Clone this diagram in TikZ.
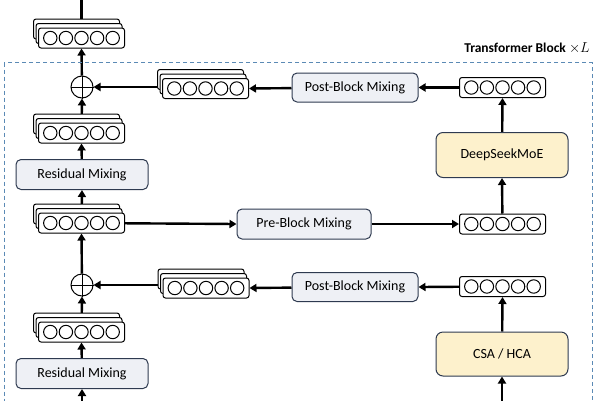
\documentclass[tikz,border=0pt]{standalone}
\usepackage{fontspec}
\setmainfont{Carlito}
\usetikzlibrary{arrows.meta,backgrounds}
\definecolor{boxline}{HTML}{2E3A50}
\definecolor{boxfill}{HTML}{EEF0F5}
\definecolor{yfill}{HTML}{FDF1CC}
\definecolor{frame}{HTML}{5B8AB5}
\tikzset{
  vecbox/.style={draw=black, fill=white, rounded corners=2.5pt, line width=1pt, minimum width=86pt, minimum height=20pt, inner sep=0pt},
  circ/.style={draw=black, fill=white, line width=1pt},
  mixbox/.style={draw=boxline, fill=boxfill, rounded corners=5pt, line width=1pt, minimum height=30pt, inner sep=0pt, font=\fontsize{14}{16}\selectfont},
  yelbox/.style={draw=boxline, fill=yfill, rounded corners=7pt, line width=1pt, minimum width=132pt, minimum height=45pt, inner sep=0pt, font=\fontsize{14}{16}\selectfont},
  plusnode/.style={draw=black, fill=white, circle, line width=1pt, minimum size=22pt, inner sep=0pt},
  conn/.style={line width=2.4pt, -{Triangle[length=7pt,width=8pt]}},
  plainconn/.style={line width=2.4pt},
}
\newcommand\singlevec[3]{%
  \node[vecbox] (#1) at (#2,#3) {};
  \foreach \i in {-2,...,2} \draw[circ] (#1.center) ++(\i*15.6,0) circle[radius=6.7pt];
}
\newcommand\stackvec[3]{%
  \node[vecbox] (#1bb) at (#2-5,#3-9) {};
  \node[vecbox] (#1b) at (#2-2.5,#3-4.5) {};
  \singlevec{#1}{#2}{#3}%
}
\begin{document}
\begin{tikzpicture}[x=1pt,y=-1pt]
\useasboundingbox (0,0) rectangle (600,400);
\clip (0,0) rectangle (600,400);
% frame
\draw[frame, line width=1pt, dash pattern=on 4pt off 3pt] (4,62.5) rectangle (592,420);
\node[anchor=east, inner sep=0pt, font=\bfseries\fontsize{13.5}{15}\selectfont] (title) at (590,48) {Transformer Block $\times L$};

% left column
\stackvec{topv}{81.5}{38}
\node[plusnode] (plusA) at (82,87) {};
\draw[line width=1pt] (plusA.north) -- (plusA.south) (plusA.west) -- (plusA.east);
\stackvec{vB}{81.5}{133}
\node[mixbox, minimum width=132pt] (resA) at (82,174.5) {Residual Mixing};
\stackvec{vC}{81.5}{223}
\node[plusnode] (plusB) at (82,285) {};
\draw[line width=1pt] (plusB.north) -- (plusB.south) (plusB.west) -- (plusB.east);
\stackvec{vD}{81.5}{332}
\node[mixbox, minimum width=132pt] (resB) at (82,373.5) {Residual Mixing};

% top row
\stackvec{sA}{205.5}{88.5}
\node[mixbox, minimum width=126pt, minimum height=29pt] (postA) at (355,87.5) {Post-Block Mixing};
\singlevec{rA}{502.5}{87.5}
\node[yelbox] (moe) at (502,155) {DeepSeekMoE};

% middle row
\node[mixbox, minimum width=134pt] (pre) at (304,224) {Pre-Block Mixing};
\singlevec{rB}{502.5}{224}

% lower row
\stackvec{sB}{206}{288}
\node[mixbox, minimum width=126pt, minimum height=29pt] (postB) at (355,287) {Post-Block Mixing};
\singlevec{rC}{502.5}{286.5}
\node[yelbox, minimum height=44pt] (csa) at (502,354) {CSA / HCA};

\coordinate (topin) at (81.5,-5);
\coordinate (botL) at (82,410);
\coordinate (botR) at (502,410);

\begin{scope}[on background layer]
\draw[plainconn] (topin) -- (topv.center);
\draw[conn] (plusA) -- (topv.south);
\draw[conn] (vB.center) -- (plusA.south);
\draw[conn] (resA) -- (vB.south);
\draw[conn] (vC.center) -- (resA.south);
\draw[conn] (plusB) -- (vC.south);
\draw[conn] (vD.center) -- (plusB.south);
\draw[conn] (resB) -- (vD.south);
\draw[conn] (botL) -- (resB.south);

\draw[conn] (rA) -- (postA.east);
\draw[conn] (postA) -- (sA.east);
\draw[conn] (sA.center |- plusA) -- (plusA.east);
\draw[conn] (moe) -- (rA.south);

\draw[conn] (vC.center) -- (pre.west);
\draw[conn] (pre) -- (rB.west);
\draw[conn] (rB) -- (moe.south);

\draw[conn] (rC) -- (postB.east);
\draw[conn] (postB) -- (sB.east);
\draw[conn] (sB.center |- plusB) -- (plusB.east);
\draw[conn] (csa) -- (rC.south);
\draw[conn] (botR) -- (csa.south);
\end{scope}
\end{tikzpicture}
\end{document}
